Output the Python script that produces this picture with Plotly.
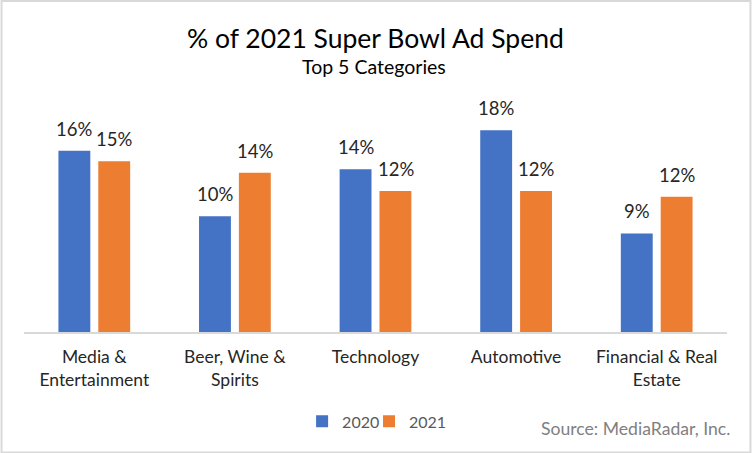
import plotly.graph_objects as go

categories = ["Media &<br>Entertainment", "Beer, Wine &<br>Spirits", "Technology", "Automotive", "Financial & Real<br>Estate"]
values_2020 = [15.8, 10.1, 14.2, 17.6, 8.6]
values_2021 = [14.9, 13.9, 12.3, 12.3, 11.8]
series_names = ["2020", "2021"]
colors = ["#4472C4", "#ED7D31"]

W, H = 752, 453
ML, MR, MT, MB = 23.5, 24.5, 90, 121.3
PW, PH = W - ML - MR, H - MT - MB

def px_x(p):
    return (p - ML) / PW

def px_y(p):
    return (H - MB - p) / PH

fig = go.Figure()
for i, (name, vals, col) in enumerate(zip(series_names, [values_2020, values_2021], colors)):
    fig.add_trace(go.Bar(x=categories, y=vals, name=name, marker_color=col,
                         marker_line_width=0, hoverinfo="skip",
                         legend="legend" if i == 0 else "legend2"))

annotations = []
for vals, shift in [(values_2020, -20), (values_2021, 20)]:
    for c, v in zip(categories, vals):
        annotations.append(dict(x=c, y=v, xref="x", yref="y", xshift=shift, yshift=9,
                                yanchor="bottom", showarrow=False,
                                text=f"{v:.0f}%",
                                font=dict(family="Lato", size=18.5, color="#262626")))

annotations.append(dict(x=px_x(375), y=px_y(38), xref="paper", yref="paper",
                        text="% of 2021 Super Bowl Ad Spend", showarrow=False,
                        xanchor="center", yanchor="middle",
                        font=dict(family="Lato", size=26.5, color="#000000")))
annotations.append(dict(x=px_x(374), y=px_y(67), xref="paper", yref="paper",
                        text="Top 5 Categories", showarrow=False,
                        xanchor="center", yanchor="middle",
                        font=dict(family="Lato", size=19.5, color="#000000")))
annotations.append(dict(x=px_x(733), y=px_y(428), xref="paper", yref="paper",
                        text="Source: MediaRadar, Inc.", showarrow=False,
                        xanchor="right", yanchor="middle",
                        font=dict(family="Lato", size=17.6, color="#808080")))

legend_common = dict(orientation="h", xanchor="left", yanchor="middle", y=px_y(421),
                     font=dict(family="Lato", size=16, color="#595959"),
                     itemwidth=30, bgcolor="rgba(0,0,0,0)")

fig.update_layout(
    width=W, height=H,
    margin=dict(l=ML, r=MR, t=MT, b=MB, pad=0),
    paper_bgcolor="white", plot_bgcolor="white",
    barmode="group", bargap=0.433, bargroupgap=0.2,
    showlegend=True,
    legend=dict(x=px_x(302), **legend_common),
    legend2=dict(x=px_x(369), **legend_common),
    annotations=annotations,
    shapes=[dict(type="rect", xref="paper", yref="paper",
                 x0=px_x(1), x1=px_x(751), y0=px_y(452), y1=px_y(1),
                 line=dict(color="#D9D9D9", width=2), fillcolor="rgba(0,0,0,0)", layer="below")],
)
fig.update_xaxes(showline=True, linecolor="#D9D9D9", linewidth=2, showgrid=False,
                 ticks="outside", ticklen=8, tickcolor="rgba(0,0,0,0)",
                 tickfont=dict(family="Lato", size=17.5, color="#262626"))
fig.update_yaxes(range=[0, PH / 11.45], visible=False, showgrid=False)

fig.write_html("out.html", config={"displayModeBar": False},
               post_script="document.body.style.margin='0';document.documentElement.style.margin='0';")
